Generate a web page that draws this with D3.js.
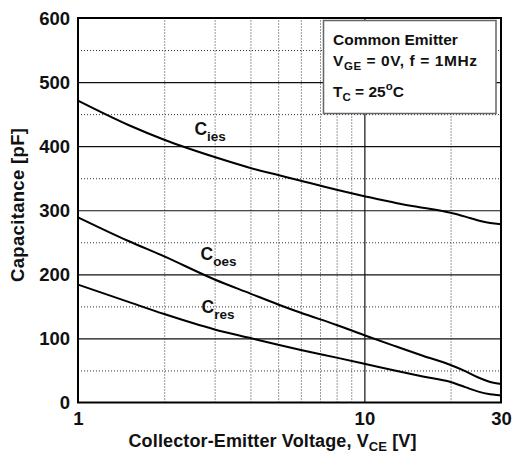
<!DOCTYPE html>
<html>
<head>
<meta charset="utf-8">
<script src="https://cdn.jsdelivr.net/npm/d3@7/dist/d3.min.js"></script>
<style>
  body { margin: 0; background: #fff; }
  svg { display: block; }
  text { font-family: "Liberation Sans", Arial, Helvetica, sans-serif; font-weight: bold; fill: #111; }
</style>
</head>
<body>
<svg id="chart" width="512" height="455"></svg>
<script>
// ---- data ----
const vCies = [1, 1.5, 2, 3, 4, 5, 6, 8, 10, 13, 16, 20, 22.5, 25, 27.5, 30];
const cies  = [471, 433, 410, 383, 366, 355, 346, 332, 322, 311, 304, 296, 290, 284, 280, 278];

const vCoes = [1, 1.5, 2, 3, 4, 5, 6, 8, 10, 13, 16, 20, 22.5, 25, 27.5, 30];
const coes  = [289, 252, 228, 192, 170, 153, 140, 121, 105, 87, 73, 58.5, 49, 39, 32, 29];

const vCres = [1, 1.5, 2, 3, 4, 5, 6, 8, 10, 13, 16, 20, 22.5, 25, 27.5, 30];
const cres  = [184, 157, 138, 114, 100.5, 90, 82, 70, 60.5, 49, 40.5, 32, 24, 17, 13, 11];

const xTickLabels = [1, 10, 30];
const yTickLabels = [0, 100, 200, 300, 400, 500, 600];
const xMinorGrid = [2, 3, 4, 5, 6, 7, 8, 9, 20];
const xMajorGrid = [10];
const yMinorGrid = [50, 150, 250, 350, 450, 550];
const yMajorGrid = [100, 200, 300, 400, 500];

const seriesLabels = [
  { main: "C", sub: "ies", v: 2.55, c: 417 },
  { main: "C", sub: "oes", v: 2.68, c: 223 },
  { main: "C", sub: "res", v: 2.7, c: 139 }
];

// ---- layout ----
const L = 78, R = 501, T = 18, B = 402.5;
const svg = d3.select("#chart");

const x = d3.scaleLog().domain([1, 30]).range([L, R]);
const y = d3.scaleLinear().domain([0, 600]).range([B, T]);

// grid
const grid = svg.append("g");
grid.append("g").attr("transform", `translate(0,${B})`)
  .call(d3.axisBottom(x).tickValues(xMinorGrid).tickSize(-(B - T)).tickFormat(""))
  .call(g => g.select(".domain").remove())
  .call(g => g.selectAll("line").attr("stroke", "#333").attr("stroke-width", 1).attr("stroke-dasharray", "1,2"));
grid.append("g").attr("transform", `translate(${L},0)`)
  .call(d3.axisLeft(y).tickValues(yMinorGrid).tickSize(-(R - L)).tickFormat(""))
  .call(g => g.select(".domain").remove())
  .call(g => g.selectAll("line").attr("stroke", "#333").attr("stroke-width", 1).attr("stroke-dasharray", "1,2"));
grid.append("g").attr("transform", `translate(0,${B})`)
  .call(d3.axisBottom(x).tickValues(xMajorGrid).tickSize(-(B - T)).tickFormat(""))
  .call(g => g.select(".domain").remove())
  .call(g => g.selectAll("line").attr("stroke", "#111").attr("stroke-width", 1.2));
grid.append("g").attr("transform", `translate(${L},0)`)
  .call(d3.axisLeft(y).tickValues(yMajorGrid).tickSize(-(R - L)).tickFormat(""))
  .call(g => g.select(".domain").remove())
  .call(g => g.selectAll("line").attr("stroke", "#111").attr("stroke-width", 1.2));

// frame
svg.append("rect").attr("x", L).attr("y", T).attr("width", R - L).attr("height", B - T)
  .attr("fill", "none").attr("stroke", "#000").attr("stroke-width", 2);

// tick labels
svg.append("g").attr("transform", `translate(0,${B})`)
  .call(d3.axisBottom(x).tickValues(xTickLabels).tickSize(0).tickPadding(0).tickFormat(d3.format("d")))
  .call(g => g.select(".domain").remove())
  .call(g => g.selectAll("text").attr("dy", null).attr("y", 22.5)
    .style("font-size", "18.5px").style("font-family", '"Liberation Sans", Arial, sans-serif').style("font-weight", "bold").attr("fill", "#111"));
svg.append("g").attr("transform", `translate(${L},0)`)
  .call(d3.axisLeft(y).tickValues(yTickLabels).tickSize(0).tickPadding(8).tickFormat(d3.format("d")))
  .call(g => g.select(".domain").remove())
  .call(g => g.selectAll("text").attr("dy", "0.35em")
    .style("font-size", "18.5px").style("font-family", '"Liberation Sans", Arial, sans-serif').style("font-weight", "bold").attr("fill", "#111"));

// curves
const line = d3.line().x(d => x(d[0])).y(d => y(d[1])).curve(d3.curveMonotoneX);
[[vCies, cies], [vCoes, coes], [vCres, cres]].forEach(([vs, cs]) => {
  svg.append("path").datum(vs.map((v, i) => [v, cs[i]]))
    .attr("d", line).attr("fill", "none").attr("stroke", "#000").attr("stroke-width", 2);
});

// series labels
seriesLabels.forEach(s => {
  const t = svg.append("text").attr("x", x(s.v)).attr("y", y(s.c)).style("font-size", "17.5px");
  t.append("tspan").text(s.main);
  t.append("tspan").attr("dy", 6).style("font-size", "13.5px").text(s.sub);
});

// legend box
svg.append("rect").attr("x", 323.5).attr("y", 20.5).attr("width", 172.5).attr("height", 93)
  .attr("fill", "#fff").attr("stroke", "#666").attr("stroke-width", 1.5);
svg.append("text").attr("x", 333).attr("y", 44.5).style("font-size", "15.5px").text("Common Emitter");
const l2 = svg.append("text").attr("x", 333).attr("y", 65.5).style("font-size", "15.5px")
  .attr("textLength", 144).attr("lengthAdjust", "spacing");
l2.append("tspan").text("V");
l2.append("tspan").attr("dy", 4).style("font-size", "11.5px").text("GE");
l2.append("tspan").attr("dy", -4).text(" = 0V, f = 1MHz");
const l3 = svg.append("text").attr("x", 333).attr("y", 97).style("font-size", "15.5px");
l3.append("tspan").text("T");
l3.append("tspan").attr("dy", 4).style("font-size", "11.5px").text("C");
l3.append("tspan").attr("dy", -4).text(" = 25");
l3.append("tspan").attr("dy", -7).style("font-size", "11.5px").text("o");
l3.append("tspan").attr("dy", 7).text("C");

// axis titles
const xt = svg.append("text").attr("x", 272.5).attr("y", 447).attr("text-anchor", "middle")
  .style("font-size", "18px").attr("textLength", 288).attr("lengthAdjust", "spacing");
xt.append("tspan").text("Collector-Emitter Voltage, V");
xt.append("tspan").attr("dy", 4).style("font-size", "13px").text("CE");
xt.append("tspan").attr("dy", -4).text(" [V]");

svg.append("text").attr("transform", "translate(24,205) rotate(-90)").attr("text-anchor", "middle")
  .style("font-size", "18.5px").attr("textLength", 154).attr("lengthAdjust", "spacing")
  .text("Capacitance [pF]");
</script>
</body>
</html>
